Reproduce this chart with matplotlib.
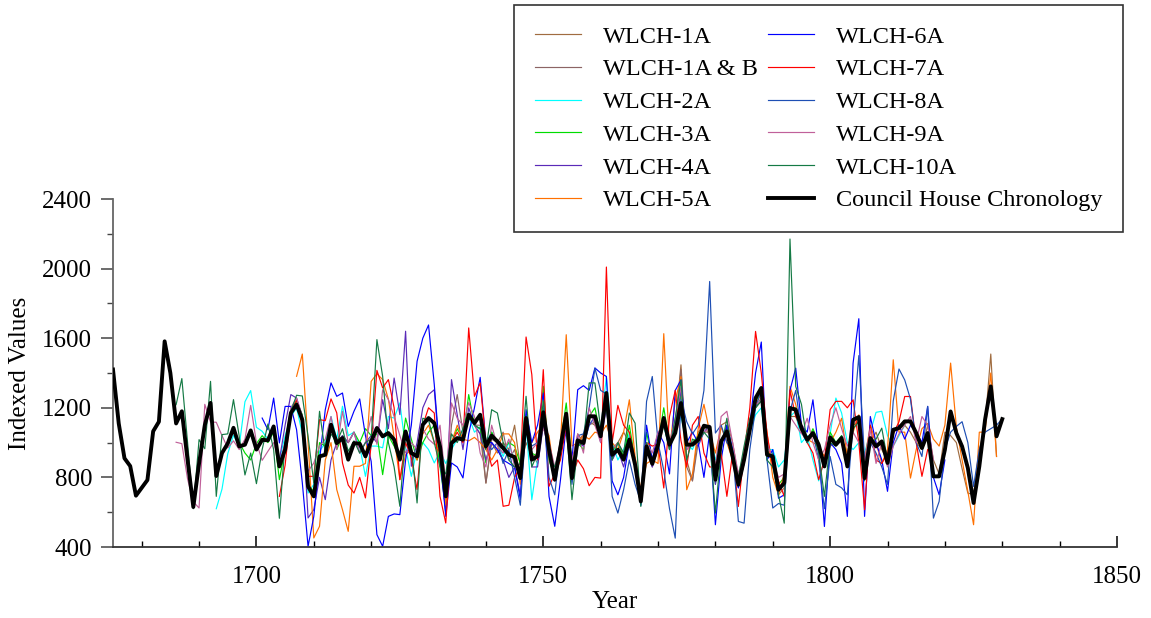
import numpy as np
import matplotlib
matplotlib.use("Agg")
import matplotlib.pyplot as plt

plt.rcParams['font.family'] = ['Liberation Serif', 'DejaVu Serif']

# Council House master chronology, 1675-1830
chron_start = 1675
chron = [1420, 1110, 910, 865, 695, 740, 785, 1065, 1120, 1582,
         1400, 1110, 1180, 900, 630, 880, 1100, 1228, 808, 940,
         995, 1085, 978, 988, 1070, 960, 1016, 1013, 1093, 863,
         960, 1170, 1218, 1131, 748, 691, 921, 930, 1103, 997,
         1026, 902, 997, 994, 921, 1007, 1084, 1036, 1055, 1017,
         902, 1064, 940, 921, 1103, 1141, 1112, 978, 691, 997,
         1026, 1017, 1160, 1112, 1160, 978, 1040, 1007, 969, 930,
         917, 796, 1141, 902, 921, 1174, 959, 787, 978, 1166,
         796, 1013, 997, 1151, 1151, 1036, 1285, 930, 959, 902,
         1017, 873, 662, 978, 878, 988, 1141, 988, 1055, 1227,
         988, 988, 1017, 1097, 1089, 787, 1007, 1064, 921, 758,
         902, 1074, 1256, 1314, 930, 921, 729, 768, 1199, 1189,
         1084, 1017, 1055, 988, 863, 1030, 988, 1026, 863, 1131,
         1147, 796, 1026, 978, 1007, 883, 1074, 1084, 1122, 1122,
         1055, 969, 1055, 806, 806, 959, 1179, 1055, 978, 854,
         653, 863, 1131, 1323, 1036, 1135]

# individual samples (start year, indexed values)
wlch_1a_start = 1738
wlch_1a = [1100, 1050, 767, 1000, 940, 1000, 960, 1100, 860, 1000,
           920, 940, 1100, 1000, 780, 1000, 1050, 820, 1050, 1000,
           1120, 1100, 1040, 1200, 960, 1000, 1060, 1000, 880, 680,
           960, 900, 960, 1100, 1000, 1100, 1447, 900, 780, 1060,
           1100, 1040, 840, 1100, 1120, 1000, 800, 900, 1100, 1200,
           1240, 960, 900, 700, 740, 1150, 1150, 1060, 1000, 1040,
           960, 880, 980, 1000, 1020, 940, 1100, 1120, 860, 1000,
           1060, 960, 900, 1060, 1080, 1100, 1060, 1000, 960, 1100,
           900, 820, 1060, 1040, 1000, 850, 710, 700, 960, 1100,
           1509, 921]

wlch_1ab_start = 1733
wlch_1ab = [700, 1100, 1276, 1060, 1150, 1100, 1100, 768, 1020, 1000,
            1060, 900, 960, 820, 1060, 940, 880, 1150, 980, 800,
            1020, 1120, 860, 1000, 1050, 1100, 1120, 1080, 1240, 900,
            1000, 920, 1040, 860, 700, 1000, 860, 1000, 1140, 980,
            1080, 1420, 860, 780, 1000, 1060, 1060, 800, 1000, 1080,
            940, 780, 920, 1080, 1200, 1260, 940, 900]

wlch_2a_start = 1693
wlch_2a = [620, 733, 936, 1042, 980, 1235, 1299, 1088, 1065, 1020,
           1080, 900, 1040, 1150, 1200, 1050, 710, 760, 950, 1000,
           1150, 1020, 1209, 1040, 1060, 980, 806, 980, 980, 970,
           1150, 1141, 1228, 970, 806, 960, 1000, 960, 883, 950,
           880, 960, 1020, 1074, 1150, 1060, 1090, 1000, 1060, 1000,
           920, 1000, 880, 820, 1100, 672, 900, 1150, 940, 860,
           940, 1100, 840, 1000, 980, 1100, 1150, 1080, 1380, 1000,
           900, 960, 1050, 900, 640, 1000, 880, 1000, 1100, 960,
           1060, 1150, 1000, 960, 1040, 1100, 1080, 900, 1000, 1100,
           960, 800, 920, 1060, 1160, 1200, 960, 960, 860, 900,
           1150, 1180, 1000, 1040, 900, 780, 900, 1050, 1256, 1170,
           1000, 960, 1000, 940, 1060, 1174, 1180, 1040, 980, 1040,
           1100]

wlch_3a_start = 1697
wlch_3a = [1000, 940, 900, 994, 1040, 1000, 1060, 787, 960, 1180,
           1240, 1160, 760, 720, 1000, 980, 1100, 960, 1040, 1000,
           1060, 1000, 1080, 1040, 1050, 816, 1040, 980, 900, 1141,
           1020, 900, 1000, 1060, 1100, 860, 624, 1000, 1080, 1020,
           1276, 1100, 1080, 883, 1060, 1000, 960, 1000, 980, 880,
           1160, 940, 920, 1324, 900, 800, 1000, 1228, 880, 1000,
           960, 1150, 1200, 1040, 1250, 950, 1000, 920, 1100, 900,
           700, 1060, 900, 1000, 1200, 1000, 1060, 1280, 980, 1000,
           1040, 1100, 1060, 760, 1000, 1080, 940, 780, 900, 1100,
           1240, 1280, 940, 940, 760, 800, 1200, 1200, 1100, 1000,
           1080, 1000, 880, 1060, 1000, 1040, 900]

wlch_4a_start = 1704
wlch_4a = [900, 1100, 1276, 1256, 1150, 567, 615, 800, 672, 900,
           1000, 1040, 1000, 1060, 940, 1000, 1040, 1000, 1247, 1080,
           1371, 1161, 1640, 864, 1000, 1200, 1276, 1304, 900, 600,
           1362, 1160, 960, 1200, 1100, 1050, 900, 1000, 960, 900,
           800, 860, 700, 1100, 860, 860, 1100, 940, 780, 960,
           1150, 800, 1000, 980, 1100, 1150, 1000, 1200, 900, 960,
           860, 1000, 860, 680, 960, 860, 960, 1150, 960, 1100,
           1300, 960, 1000, 980, 1060, 1100, 760, 1000, 1100, 900,
           740, 880, 1060]

wlch_5a_start = 1707
wlch_5a = [1381, 1509, 1000, 452, 519, 900, 1000, 730, 614, 490,
           864, 864, 880, 1352, 1396, 1362, 1250, 1030, 787, 930,
           960, 900, 1050, 1100, 1000, 940, 640, 1000, 1100, 1020,
           1010, 1030, 1000, 960, 900, 960, 1050, 1050, 1000, 760,
           1100, 1000, 1060, 1100, 1040, 800, 1000, 1620, 980, 1000,
           1040, 1020, 1060, 1050, 1100, 1000, 960, 1060, 1246, 920,
           730, 880, 900, 880, 1626, 960, 1240, 1380, 729, 820,
           1080, 1220, 1060, 940, 1090, 1000, 900, 800, 940, 1080,
           1220, 1280, 1060, 800, 700, 820, 1323, 1220, 1060, 1020,
           1000, 980, 920, 1000, 1060, 1140, 920, 1060, 1160, 900,
           1100, 1000, 880, 960, 1476, 1060, 1060, 796, 960, 1080,
           1110, 1020, 980, 1100, 1457, 1090, 900, 720, 528, 1060,
           1060, 1400, 920]

wlch_6a_start = 1701
wlch_6a = [1141, 1074, 1256, 998, 1208, 1208, 1074, 768, 404, 576,
           900, 1189, 1343, 1266, 1285, 1093, 1180, 1251, 1040, 892,
           471, 404, 576, 590, 586, 900, 1100, 1467, 1600, 1676,
           1333, 921, 576, 883, 860, 797, 1050, 1200, 1375, 1000,
           1000, 960, 900, 880, 860, 672, 1189, 1000, 1100, 1285,
           691, 519, 787, 1100, 900, 1304, 1327, 1300, 1429, 1400,
           1380, 780, 700, 800, 1000, 860, 640, 1100, 900, 1060,
           1000, 820, 1300, 1360, 1000, 1060, 1000, 800, 1060, 528,
           900, 1100, 960, 740, 880, 1100, 1400, 1578, 900, 960,
           680, 700, 1300, 1428, 1100, 1060, 1246, 960, 518, 1000,
           960, 880, 576, 1457, 1712, 576, 1150, 1000, 900, 720,
           1000, 1100, 1020, 1100, 1060, 1000, 1208, 800, 700, 900]

wlch_7a_start = 1704
wlch_7a = [691, 870, 1180, 1247, 1100, 806, 806, 1132, 1126, 1251,
           1171, 883, 756, 710, 800, 682, 988, 1415, 1314, 1362,
           1200, 787, 1000, 912, 730, 1100, 1200, 1170, 691, 538,
           1000, 1060, 1000, 1659, 1266, 1343, 1000, 864, 900, 634,
           640, 800, 860, 1607, 1391, 900, 1419, 749, 820, 900,
           1100, 800, 900, 850, 752, 800, 796, 2009, 1000, 1214,
           1100, 1060, 900, 672, 1000, 980, 990, 739, 1150, 1300,
           1010, 860, 1100, 1150, 940, 860, 860, 940, 691, 940,
           633, 940, 1200, 1639, 1400, 1050, 860, 780, 690, 1300,
           1150, 1100, 1000, 940, 787, 900, 1190, 1237, 1237, 1200,
           1246, 1000, 614, 1100, 900, 880, 940, 1050, 1120, 1265,
           1265, 1000, 806, 960]

wlch_8a_start = 1740
wlch_8a = [1000, 960, 1000, 880, 960, 800, 640, 1100, 980, 1000,
           1200, 800, 700, 1000, 1100, 760, 1040, 1050, 1200, 1428,
           1300, 1280, 691, 595, 729, 900, 760, 660, 1237, 1380,
           1000, 840, 620, 451, 1250, 1120, 1050, 1100, 1300, 1926,
           1055, 1100, 1000, 960, 547, 537, 960, 1200, 1300, 900,
           624, 650, 640, 1180, 1300, 1060, 1000, 1060, 900, 620,
           920, 760, 740, 700, 1100, 1500, 900, 1000, 940, 860,
           760, 1240, 1423, 1360, 1250, 1000, 920, 1208, 566, 662,
           960, 1060, 1093, 1120, 1000, 748, 960, 1060, 1080, 1100,
           1137]

wlch_9a_start = 1686
wlch_9a = [1002, 994, 790, 660, 624, 1220, 1118, 1117, 1040, 969,
           1010, 960, 1020, 1214, 1000, 898, 950, 1000, 880, 1000,
           1200, 1256, 1150, 835, 883, 980, 1020, 1150, 960, 1180,
           1000, 1060, 940, 1000, 1150, 990, 1304, 1247, 1150, 1040,
           940, 1000, 960, 1080, 1020, 990, 1100, 760, 1228, 1140,
           1100, 1230, 1150, 940, 860, 1100, 980, 940, 1020, 860,
           850, 1080, 960, 1000, 1080, 1000, 860, 1000, 1100, 900,
           1050, 940, 1200, 1100, 1000, 1250, 960, 1000, 940, 1000,
           900, 720, 1000, 940, 1060, 1100, 1000, 1140, 1320, 960,
           1000, 1020, 1060, 1080, 860, 1150, 1180, 1000, 820, 940,
           1100, 1220, 1240, 1000, 900, 800, 820, 1150, 1100, 1050,
           1140, 1000, 900, 960, 1100, 1200, 1080, 980, 1060, 1000,
           900, 1080, 880, 1000, 860, 980, 1050, 1100, 1150, 1000,
           1150, 1100, 900]

wlch_10a_start = 1686
wlch_10a = [1218, 1368, 1000, 620, 1017, 965, 1352, 691, 1046, 1050,
            1247, 1036, 814, 940, 764, 960, 1107, 960, 565, 1000,
            1180, 1272, 1268, 1036, 768, 1180, 940, 1050, 1000, 1080,
            950, 1010, 940, 1000, 1020, 1592, 1381, 1000, 860, 634,
            1060, 980, 653, 1140, 1130, 1000, 860, 820, 1050, 1000,
            1080, 1160, 1100, 1080, 960, 1189, 1170, 1000, 900, 860,
            880, 1266, 860, 940, 1240, 920, 860, 980, 1100, 672,
            980, 1000, 1343, 1343, 1080, 1200, 900, 1000, 940, 1170,
            1112, 633, 1000, 880, 1000, 1100, 960, 1140, 1361, 900,
            1020, 1000, 1060, 1020, 595, 960, 1140, 900, 800, 980,
            1140, 1200, 1240, 900, 860, 700, 537, 2170, 1323, 1220,
            1000, 1060, 940, 691, 1000, 980, 1040, 860, 1080, 1120,
            780, 1000, 1020, 1083, 900, 1040]

series = [
    ("WLCH-1A", wlch_1a_start, wlch_1a, "#a06c40"),
    ("WLCH-1A & B", wlch_1ab_start, wlch_1ab, "#8c6464"),
    ("WLCH-2A", wlch_2a_start, wlch_2a, "#00ffff"),
    ("WLCH-3A", wlch_3a_start, wlch_3a, "#00dd00"),
    ("WLCH-4A", wlch_4a_start, wlch_4a, "#5a2ab8"),
    ("WLCH-5A", wlch_5a_start, wlch_5a, "#ff7000"),
    ("WLCH-6A", wlch_6a_start, wlch_6a, "#0000ff"),
    ("WLCH-7A", wlch_7a_start, wlch_7a, "#ff0000"),
    ("WLCH-8A", wlch_8a_start, wlch_8a, "#1e4fb4"),
    ("WLCH-9A", wlch_9a_start, wlch_9a, "#c0609a"),
    ("WLCH-10A", wlch_10a_start, wlch_10a, "#157a45"),
]

fig = plt.figure(figsize=(11.51, 6.18), dpi=100)
ax = fig.add_axes([113 / 1151, 1 - 547 / 618, (1117 - 113) / 1151, (547 - 199) / 618])

for name, start, vals, col in series:
    yrs = np.arange(start, start + len(vals))
    ax.plot(yrs, vals, color=col, lw=0.85, label=name)

cy = np.arange(chron_start, chron_start + len(chron))
ax.plot(cy, chron, color="black", lw=2.8, label="Council House Chronology", zorder=5)

ax.set_xlim(1675, 1850)
ax.set_ylim(400, 2400)
ax.set_xticks([1700, 1750, 1800, 1850])
ax.set_xticks(np.arange(1680, 1850, 10), minor=True)
ax.set_yticks(np.arange(400, 2401, 400))
ax.set_yticks(np.arange(600, 2400, 400), minor=True)

for s in ["top", "right"]:
    ax.spines[s].set_visible(False)
ax.spines["left"].set_color("#666666")
ax.spines["left"].set_linewidth(1.3)
ax.spines["bottom"].set_color("#333333")
ax.spines["bottom"].set_linewidth(1.3)

ax.tick_params(axis="x", which="major", direction="in", length=8, width=1.1, labelsize=18, pad=14)
ax.tick_params(axis="x", which="minor", direction="in", length=4, width=1.0)
ax.tick_params(axis="y", which="major", direction="out", length=9, width=1.1, labelsize=18, pad=6, color="#444444")
ax.tick_params(axis="y", which="minor", direction="out", length=4, width=1.0, color="#444444")

ax.set_xlabel("Year", fontsize=18, labelpad=2)
ax.set_ylabel("Indexed Values", fontsize=18, labelpad=8)

handles, labels = ax.get_legend_handles_labels()
leg = fig.legend(handles, labels, ncol=2, loc="upper right",
                 bbox_to_anchor=(1123 / 1151, 1 - 5 / 618), borderaxespad=0,
                 fontsize=17.5, frameon=True, fancybox=False, framealpha=1,
                 edgecolor="#333333", handlelength=1.9, handletextpad=0.9,
                 columnspacing=0.4, labelspacing=0.44, borderpad=0.85)
leg.get_frame().set_linewidth(1.2)

fig.savefig("out.png", dpi=100)
